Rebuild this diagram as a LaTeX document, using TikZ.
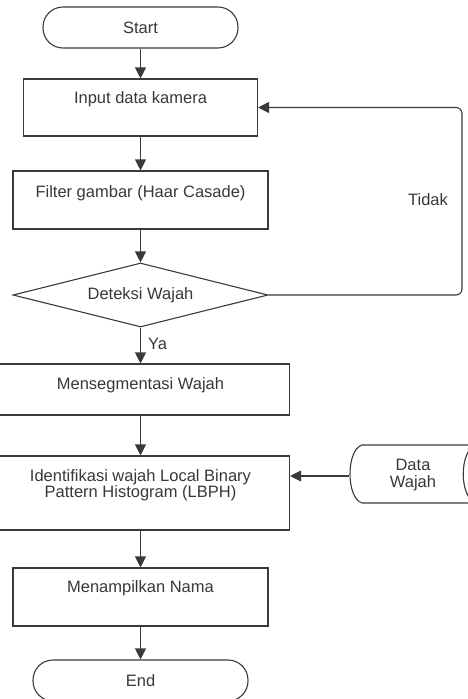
\documentclass[tikz,border=0pt]{standalone}
\usepackage{fontspec}
\setmainfont{Liberation Sans}
\usetikzlibrary{shapes.geometric,arrows.meta}
\definecolor{ln}{HTML}{3A3A3A}
\definecolor{tx}{HTML}{383838}
\begin{document}
\begin{tikzpicture}[x=1pt,y=-1pt,
  every node/.style={font=\fontsize{16.5}{16.5}\selectfont, text=tx},
  box/.style={draw=ln, line width=1.1pt, rectangle, inner sep=0pt},
  term/.style={box, rounded corners=20pt},
  dec/.style={draw=ln, line width=1.1pt, diamond, shape aspect=4, inner sep=0pt},
  conn/.style={draw=ln, line width=1.1pt, -{Triangle[length=11pt,width=11pt]}},
  lbl/.style={inner sep=0pt, align=center}]
\useasboundingbox (0,0) rectangle (467,699);
% nodes
\node[term, minimum width=195pt, minimum height=41pt] (start) at (140.5,27.5) {Start};
\node[box, minimum width=234pt, minimum height=57pt] (input) at (140.5,107.5) {};
\node[lbl] (tinput) at (140.5,99) {Input data kamera};
\node[box, minimum width=255pt, minimum height=58pt] (filter) at (140.5,200) {};
\node[lbl] (tfilter) at (140.5,193) {Filter gambar (Haar Casade)};
\node[dec, minimum width=255pt, minimum height=64pt] (det) at (140.5,295) {Deteksi Wajah};
\node[box, minimum width=298pt, minimum height=51pt] (seg) at (140.5,389.5) {};
\node[lbl] (tseg) at (140.5,385) {Mensegmentasi Wajah};
\node[box, minimum width=298pt, minimum height=74pt] (ident) at (140.5,493) {};
\node[lbl] (tident) at (140.5,485) {Identifikasi wajah Local Binary\\Pattern Histogram (LBPH)};
\node[box, minimum width=255pt, minimum height=58pt] (show) at (140.5,597) {};
\node[lbl] (tshow) at (140.5,588) {Menampilkan Nama};
\node[term, minimum width=215pt, minimum height=41pt] (end) at (140.5,680.5) {End};
% stored data
\draw[ln, line width=1.1pt] (485,445) -- (362,445) .. controls (346,450) and (346,498) .. (362,503) -- (485,503);
\draw[ln, line width=1.1pt] (476,445) .. controls (459,450) and (459,498) .. (476,503);
\node[lbl] (dw) at (413,475) {Data\\Wajah};
\coordinate (dwl) at (349,476);
% connectors
\draw[conn] (start) -- (input);
\draw[conn] (input) -- (filter);
\draw[conn] (filter) -- (det);
\draw[conn] (det) -- node[anchor=west, inner sep=0pt, xshift=7pt, pos=0.45] (ya) {Ya} (seg);
\draw[conn] (seg) -- (ident);
\draw[conn] (ident) -- (show);
\draw[conn] (show) -- (end);
\coordinate (lp) at (462,200);
\draw[conn, rounded corners=6pt] (det.east) -| (lp) |- (input.east);
\node[lbl] (tidak) at (428,200) {Tidak};
\draw[conn] (dwl) -- (dwl -| ident.east);
\end{tikzpicture}
\end{document}
